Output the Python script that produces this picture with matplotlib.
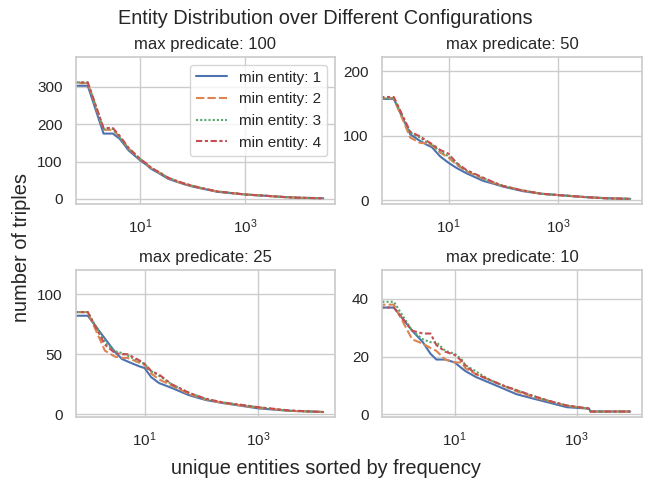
import matplotlib
matplotlib.use("Agg")
import numpy as np
import matplotlib.pyplot as plt
import seaborn as sns

sns.set_theme(style="whitegrid")
plt.rcParams['font.family'] = ['Liberation Sans', 'DejaVu Sans']

titles = ["max predicate: 100", "max predicate: 50", "max predicate: 25", "max predicate: 10"]
labels = ["min entity: 1", "min entity: 2", "min entity: 3", "min entity: 4"]

# panel: max predicate 100
x_100 = [0, 1, 2, 3, 4, 5, 6, 8, 10, 13, 16, 24, 34, 50, 71, 100, 150, 300, 1000, 2800, 5700, 12000, 31000]
y_100_e1 = [303, 303, 175, 175, 162, 145, 130, 115, 103, 92, 81, 67, 54, 46, 39, 33, 28, 19, 12, 8, 5, 3, 2]
y_100_e2 = [310, 310, 185, 185, 168, 150, 135, 118, 106, 94, 83, 69, 56, 47, 40, 34, 28, 20, 12, 8, 5, 3, 2]
y_100_e3 = [312, 312, 188, 188, 166, 148, 134, 119, 107, 95, 84, 70, 57, 48, 41, 35, 29, 20, 12, 8, 5, 3, 2]
y_100_e4 = [312, 312, 190, 190, 170, 152, 137, 120, 107, 95, 84, 70, 57, 48, 41, 35, 29, 20, 12, 8, 5, 3, 2]

# panel: max predicate 50
x_50 = [0, 1, 2, 3, 4, 5, 7, 10, 14, 21, 30, 43, 70, 100, 230, 500, 1000, 2900, 7700, 21000]
y_50_e1 = [157, 157, 102, 92, 86, 82, 68, 58, 50, 42, 36, 30, 25, 21, 14, 10, 8, 5, 3, 2]
y_50_e2 = [158, 158, 97, 89, 88, 85, 74, 66, 55, 45, 39, 33, 26, 22, 15, 10, 8, 5, 3, 2]
y_50_e3 = [158, 158, 105, 97, 90, 86, 76, 68, 57, 46, 40, 34, 27, 22, 15, 10, 8, 5, 3, 2]
y_50_e4 = [160, 160, 106, 99, 92, 87, 78, 72, 58, 47, 41, 35, 27, 22, 15, 10, 8, 5, 3, 2]

# panel: max predicate 25
x_25 = [0, 1, 2, 3, 4, 5, 8, 10, 13, 18, 30, 60, 118, 235, 1000, 3500, 13800]
y_25_e1 = [82, 82, 63, 52, 46, 44, 40, 38.5, 31, 26, 22, 16, 12, 9.5, 5, 3, 2]
y_25_e2 = [85, 85, 53, 48, 47, 47, 43, 41, 34, 29, 24, 17, 12.5, 9.5, 5.5, 3, 2]
y_25_e3 = [85, 85, 60, 52.5, 51, 49, 44, 42, 36, 32, 25, 18, 13, 10, 6, 3, 2]
y_25_e4 = [85, 85, 58, 51, 50, 50, 45, 42, 36, 33, 25, 18, 13, 10, 6, 3.3, 2]

# panel: max predicate 10
x_10 = [0, 1, 2, 3, 4, 5, 7, 10, 13, 15, 22, 37, 62, 103, 193, 366, 690, 1600, 1700, 7600]
y_10_e1 = [37, 37, 29, 25, 21, 19, 19, 18, 16, 15, 13, 11, 9, 7, 5.5, 4, 2.5, 2, 1, 1]
y_10_e2 = [38, 38, 26, 24.5, 23, 22, 19, 18, 18, 16, 14, 12, 10, 8, 6, 4.5, 3, 2, 1, 1]
y_10_e3 = [39, 39, 29, 26, 25, 25, 22, 21, 19, 17, 15, 12, 10, 8.4, 6.4, 4.6, 3, 2, 1, 1]
y_10_e4 = [37, 37, 29, 28, 28, 24, 21.7, 20.6, 18.5, 17, 14, 12, 10, 8.4, 6.4, 4.6, 3.1, 2, 1, 1]

y_tops = [380, 222, 120, 50]
y_ticks = [[0, 100, 200, 300], [0, 100, 200], [0, 50, 100], [0, 20, 40]]
x_ticks = [10, 1000]

panels = [
    (x_100, [y_100_e1, y_100_e2, y_100_e3, y_100_e4]),
    (x_50, [y_50_e1, y_50_e2, y_50_e3, y_50_e4]),
    (x_25, [y_25_e1, y_25_e2, y_25_e3, y_25_e4]),
    (x_10, [y_10_e1, y_10_e2, y_10_e3, y_10_e4]),
]

colors = sns.color_palette("deep", 4)
dashes = [(None, None), (4, 1.5), (1, 1), (3, 1.25, 1.5, 1.25)]

W, H = 651, 491
# axes boxes in pixels: (left, top, right, bottom)
boxes = [(76, 57, 335, 204), (382, 57, 642, 204), (76, 270, 335, 417), (382, 270, 642, 417)]

fig = plt.figure(figsize=(W / 100, H / 100), dpi=100)
for i in range(4):
    l, t, r, b = boxes[i]
    ax = fig.add_axes([l / W, 1 - b / H, (r - l) / W, (b - t) / H])
    xs, ys_list = panels[i]
    for j, ys in enumerate(ys_list):
        kw = {}
        if j > 0:
            kw["dashes"] = dashes[j]
        ax.plot(xs, ys, color=colors[j], lw=1.5, label=labels[j], **kw)
    ax.set_xscale("log")
    L = np.log10(max(xs))
    ax.set_xlim(10 ** (-0.05 * L), 10 ** (1.05 * L))
    ax.set_xticks(x_ticks)
    ax.set_yticks(y_ticks[i])
    ax.set_title(titles[i], fontsize=12)
    ax.set_ylim(top=y_tops[i])
    if i == 0:
        ax.legend(loc="upper right", fontsize=11)

fig.text(0.5, 1 - 18 / H, "Entity Distribution over Different Configurations",
         fontsize=14.4, ha="center", va="center")
fig.text(0.5, 1 - 469 / H, "unique entities sorted by frequency",
         fontsize=14.4, ha="center", va="center")
fig.text(22 / W, 1 - 247 / H, "number of triples", fontsize=14.4,
         ha="center", va="center", rotation=90)
fig.savefig("out.png", dpi=100)
